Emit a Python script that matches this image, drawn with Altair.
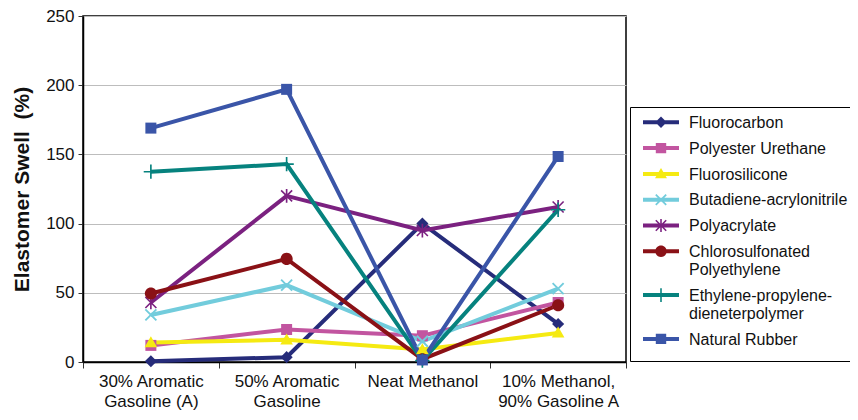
import math
import json
import altair as alt
import pandas as pd

# ---------------- data ----------------
conditions = ["30% Aromatic\nGasoline (A)", "50% Aromatic\nGasoline",
              "Neat Methanol", "10% Methanol,\n90% Gasoline A"]
series = ["Fluorocarbon", "Polyester Urethane", "Fluorosilicone",
          "Butadiene-acrylonitrile", "Polyacrylate",
          "Chlorosulfonated\nPolyethylene",
          "Ethylene-propylene-\ndieneterpolymer", "Natural Rubber"]
colors = ["#262C7A", "#C255A0", "#F5EA12", "#72CCDC",
          "#7B2180", "#8A1116", "#06827E", "#3A55A8"]

fluorocarbon = [0.5, 3.5, 100, 27.5]
polyester_urethane = [12, 23.5, 19, 43]
fluorosilicone = [14, 16, 9, 21]
butadiene_acrylonitrile = [34, 55.5, 15, 53]
polyacrylate = [43, 120, 95, 112]
chlorosulfonated_pe = [49.5, 74.5, 2, 41]
epdm = [137.5, 143, 1, 110]
natural_rubber = [169, 197, 1.5, 148.5]

values = [fluorocarbon, polyester_urethane, fluorosilicone,
          butadiene_acrylonitrile, polyacrylate, chlorosulfonated_pe,
          epdm, natural_rubber]

rows = []
for s, vals in zip(series, values):
    for c, v in zip(conditions, vals):
        rows.append({"series": s, "condition": c, "swell": v})
df = pd.DataFrame(rows)

# ---------------- marker shapes (unit paths) ----------------
def poly(pts):
    n = len(pts)
    a = sum(pts[i][0] * pts[(i + 1) % n][1] - pts[(i + 1) % n][0] * pts[i][1] for i in range(n))
    if a < 0:
        pts = pts[::-1]
    return "M" + "L".join(f"{x:.3f},{y:.3f}" for x, y in pts) + "Z"

def bar(x1, y1, x2, y2, t):
    dx, dy = x2 - x1, y2 - y1
    L = math.hypot(dx, dy)
    nx, ny = -dy / L * t, dx / L * t
    return poly([(x1 + nx, y1 + ny), (x2 + nx, y2 + ny), (x2 - nx, y2 - ny), (x1 - nx, y1 - ny)])

def circ(r, cy=0.0):
    return (f"M{-r:.3f},{cy:.3f}A{r:.3f},{r:.3f} 0 1,1 {r:.3f},{cy:.3f}"
            f"A{r:.3f},{r:.3f} 0 1,1 {-r:.3f},{cy:.3f}Z")

def marker(kind, s=1.0, cy=0.0):
    if kind == "diamond":
        return poly([(0, cy - 1.1 * s), (1.1 * s, cy), (0, cy + 1.1 * s), (-1.1 * s, cy)])
    if kind == "square":
        return poly([(-s, cy - s), (s, cy - s), (s, cy + s), (-s, cy + s)])
    if kind == "triangle":
        return poly([(0, cy - 1.15 * s), (1.15 * s, cy + 0.85 * s), (-1.15 * s, cy + 0.85 * s)])
    if kind == "x":
        return (bar(-s, cy - s, s, cy + s, 0.17 * s) + bar(-s, cy + s, s, cy - s, 0.17 * s))
    if kind == "asterisk":
        return (bar(-s, cy - s, s, cy + s, 0.15 * s) + bar(-s, cy + s, s, cy - s, 0.15 * s)
                + bar(0, cy - 1.25 * s, 0, cy + 1.25 * s, 0.15 * s))
    if kind == "circle":
        return circ(1.1 * s, cy)
    if kind == "plus":
        return (bar(-1.3 * s, cy, 1.3 * s, cy, 0.15 * s) + bar(0, cy - 1.3 * s, 0, cy + 1.3 * s, 0.15 * s))

kinds = ["diamond", "square", "triangle", "x", "asterisk", "circle", "plus", "square"]
chart_shapes = [marker(k, 1.0) for k in kinds]
# legend symbol: 16px nominal box (8 px per unit); line 36px long, marker ~10px
shift = -0.71   # lift symbol to the middle of the first label line
legend_shapes = [bar(-2.25, shift, 2.25, shift, 0.25) + marker(k, 0.65, shift) for k in kinds]

# ---------------- encodings ----------------
x_enc = alt.X(
    "condition:N", sort=conditions, bandPosition=0.5,
    scale=alt.Scale(type="band", domain=conditions, paddingInner=0, paddingOuter=0),
    axis=alt.Axis(title=None, labelExpr="split(datum.label, '\\n')", labelAngle=0,
                  labelFontSize=17, labelColor="#111111", labelLineHeight=20,
                  labelPadding=5, tickBand="extent", tickSize=6, tickColor="#333333",
                  domainColor="black", domainWidth=1.5, grid=False, labelBaseline="top"),
)
y_enc = alt.Y(
    "swell:Q",
    scale=alt.Scale(domain=[0, 250], nice=False),
    axis=alt.Axis(title="Elastomer Swell\u00a0 (%)", titleFontSize=21, titleFontWeight="bold",
                  titleColor="#111111", titlePadding=13, values=[0, 50, 100, 150, 200, 250],
                  labelFontSize=17, labelColor="#111111", labelPadding=4, tickSize=5,
                  tickColor="#333333", domainColor="black", domainWidth=1.5,
                  gridColor="#BDBDBD", gridWidth=1),
)

def color_scale():
    return alt.Scale(domain=series, range=colors)

legend = alt.Legend(
    title=None, orient="none", legendX=547, legendY=91,
    strokeColor="black", fillColor="white", padding=13,
    labelFontSize=16, labelColor="#111111", labelLimit=400,
    symbolOffset=10, labelOffset=20,
    labelExpr="split(datum.label, '\\n')", labelBaseline="alphabetic",
    symbolSize=256, symbolStrokeWidth=0, symbolOpacity=1, rowPadding=9.8,
)

lines = alt.Chart(df).transform_calculate(
    cond_idx="indexof(" + json.dumps(conditions) + ", datum.condition)"
).mark_line(strokeWidth=4).encode(
    x=x_enc, y=y_enc,
    color=alt.Color("series:N", scale=color_scale(), sort=series, legend=None),
    order=alt.Order("cond_idx:Q"),
)

points = alt.Chart(df).mark_point(filled=True, size=121, opacity=1).encode(
    x=x_enc, y=y_enc,
    color=alt.Color("series:N", scale=color_scale(), sort=series, legend=None),
    shape=alt.Shape("series:N", scale=alt.Scale(domain=series, range=chart_shapes), legend=None),
)

legend_layer = alt.Chart(df).transform_filter("false").mark_point(
    filled=True, opacity=1
).encode(
    x=x_enc, y=y_enc,
    color=alt.Color("series:N", scale=color_scale(), sort=series, legend=legend),
    shape=alt.Shape("series:N", scale=alt.Scale(domain=series, range=legend_shapes),
                    sort=series, legend=legend),
)

chart = alt.layer(lines, points, legend_layer).resolve_scale(
    shape="independent", color="independent"
).properties(
    width=543, height=346,
    autosize=alt.AutoSizeParams(type="none"),
    padding={"left": 75, "top": 8, "right": 224, "bottom": 50},
).configure(
    font="Liberation Sans", style={"guide-label": {"lineHeight": 18}}
).configure_view(
    stroke="black", strokeWidth=1.5
)

chart.save("out.html", embed_options={"renderer": "svg", "actions": False})
